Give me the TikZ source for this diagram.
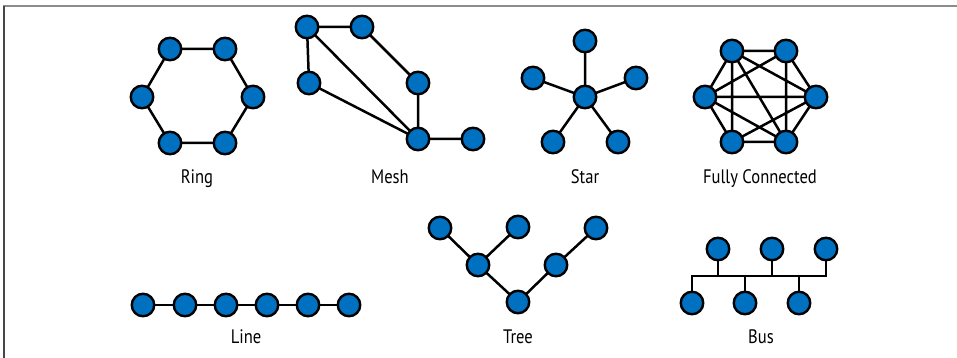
\documentclass[tikz,border=0pt]{standalone}
\usepackage{fontspec}
\setmainfont[FakeStretch=0.85]{PT Sans}
\definecolor{nodeblue}{RGB}{0,112,192}
\definecolor{topgray}{RGB}{140,140,140}
\definecolor{leftgray}{RGB}{70,70,70}
\begin{document}
\begin{tikzpicture}[x=1pt,y=-1pt,
  nd/.style={circle,draw=black,fill=nodeblue,line width=2.4pt,minimum size=22.5pt,inner sep=0pt},
  ed/.style={line width=2.5pt,black},
  lbl/.style={font=\fontsize{19.5}{22}\selectfont,inner sep=0pt,anchor=base}]
\useasboundingbox (0,0) rectangle (957,358);
\fill[white] (0,0) rectangle (957,358);
% frame
\draw[topgray,line width=2pt] (3,6.5) -- (957,6.5);
\draw[leftgray,line width=1.5pt] (4,6) -- (4,358);

% Ring
\coordinate (r1) at (170,49); \coordinate (r2) at (225,49); \coordinate (r3) at (253,97);
\coordinate (r4) at (225,143); \coordinate (r5) at (170,143); \coordinate (r6) at (142,97);
\draw[ed] (r1) -- (r2) -- (r3) -- (r4) -- (r5) -- (r6) -- cycle;
\foreach \n in {r1,r2,r3,r4,r5,r6} \node[nd] at (\n) {};
\node[lbl] (ringl) at (197,183) {Ring};

% Mesh
\coordinate (m1) at (307,27); \coordinate (m2) at (362,27); \coordinate (m3) at (309,83);
\coordinate (m4) at (418,83); \coordinate (m5) at (418,139); \coordinate (m6) at (473,139);
\draw[ed] (m1) -- (m2) (m1) -- (m3) (m1) -- (m5) (m2) -- (m4) (m4) -- (m5) (m3) -- (m5) (m5) -- (m6);
\foreach \n in {m1,m2,m3,m4,m5,m6} \node[nd] at (\n) {};
\node[lbl] (meshl) at (390,183) {Mesh};

% Star
\coordinate (s0) at (585,97); \coordinate (s1) at (585,41); \coordinate (s2) at (533,78);
\coordinate (s3) at (636,78); \coordinate (s4) at (553,142); \coordinate (s5) at (618,142);
\draw[ed] (s0) -- (s1) (s0) -- (s2) (s0) -- (s3) (s0) -- (s4) (s0) -- (s5);
\foreach \n in {s0,s1,s2,s3,s4,s5} \node[nd] at (\n) {};
\node[lbl] (starl) at (585,183) {Star};

% Fully connected
\coordinate (f1) at (732,51); \coordinate (f2) at (786,51); \coordinate (f3) at (816,97);
\coordinate (f4) at (786,142); \coordinate (f5) at (732,142); \coordinate (f6) at (705,97);
\draw[ed] (f1) -- (f2) (f1) -- (f6) (f1) -- (f5) (f1) -- (f4) (f1) -- (f3)
  (f2) -- (f3) (f2) -- (f4) (f2) -- (f6)
  (f6) -- (f3) (f6) -- (f5) (f6) -- (f4)
  (f3) -- (f4) (f3) -- (f5) (f5) -- (f4);
\foreach \n in {f1,f2,f3,f4,f5,f6} \node[nd] at (\n) {};
\node[lbl] (fulll) at (760,183) {Fully Connected};

% Line
\foreach \i/\x in {1/143,2/185,3/226,4/267,5/308,6/349} \coordinate (l\i) at (\x,305);
\draw[ed] (l1) -- (l6);
\foreach \i in {1,...,6} \node[nd] at (l\i) {};
\node[lbl] (linel) at (246,343) {Line};

% Tree
\coordinate (t1) at (440,228); \coordinate (t2) at (518,227); \coordinate (t3) at (478,265);
\coordinate (t4) at (518,302); \coordinate (t5) at (556,265); \coordinate (t6) at (596,228);
\draw[ed] (t1) -- (t3) -- (t4) -- (t5) -- (t6) (t2) -- (t3);
\foreach \n in {t1,t2,t3,t4,t5,t6} \node[nd] at (\n) {};
\node[lbl] (treel) at (518,343) {Tree};

% Bus
\coordinate (b1) at (718,249); \coordinate (b2) at (772,249); \coordinate (b3) at (826,249);
\coordinate (b4) at (692,303); \coordinate (b5) at (745,303); \coordinate (b6) at (799,303);
\draw[ed] (b4) -- (692,276) -- (826,276) -- (b3)
  (b1) -- (718,276) (b2) -- (772,276) (b5) -- (745,276) (b6) -- (799,276);
\foreach \n in {b1,b2,b3,b4,b5,b6} \node[nd] at (\n) {};
\node[lbl] (busl) at (761,343) {Bus};
\end{tikzpicture}
\end{document}
